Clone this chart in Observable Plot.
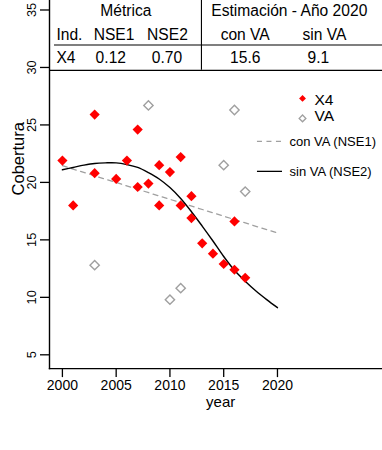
<!DOCTYPE html>
<html><head><meta charset="utf-8">
<script src="https://cdn.jsdelivr.net/npm/d3@7"></script>
<script src="https://cdn.jsdelivr.net/npm/@observablehq/plot@0.6"></script>
<style>
body{margin:0;background:#fff;}
#chart svg{font-family:"Liberation Sans",Arial,Helvetica,sans-serif;}
</style>
</head><body><div id="chart"></div>
<script>
// ---- data ----
const x4Years = [2000,2001,2003,2003,2005,2006,2007,2007,2008,2009,2009,2010,2011,2011,2012,2012,2013,2014,2015,2016,2016,2017];
const x4Values = [21.9,18.0,25.9,20.8,20.3,21.9,24.6,19.6,19.9,21.5,18.0,20.9,22.2,18.0,18.8,16.9,14.7,13.8,12.9,12.4,16.6,11.7];
const vaYears = [2003,2008,2010,2011,2015,2016,2017];
const vaValues = [12.8,26.7,9.8,10.8,21.5,26.3,19.2];
const conVaYears = [2000,2020];
const conVaValues = [21.45,15.6];
const sinVaYears = [2000,2001,2002,2003,2004,2005,2006,2007,2008,2009,2010,2011,2012,2013,2014,2015,2016,2017,2018,2019,2020];
const sinVaValues = [21.1,21.3,21.5,21.65,21.7,21.7,21.55,21.3,20.85,20.3,19.55,18.6,17.45,16.2,14.9,13.55,12.35,11.4,10.55,9.8,9.1];
const xTicks = [2000,2005,2010,2015,2020];
const yTicks = [5,10,15,20,25,30,35];
const tableHeader = ["Métrica","Estimación - Año 2020"];
const tableColumns = ["Ind.","NSE1","NSE2","con VA","sin VA"];
const tableRow = ["X4","0.12","0.70","15.6","9.1"];
const pointLegend = ["X4","VA"];
const lineLegend = ["con VA (NSE1)","sin VA (NSE2)"];
const xLabel = "year";
const yLabel = "Cobertura";

// ---- layout (data units) ----
const xDomain = [1998.8, 2031.2];
const yDomain = [3.8, 36.2];
const headerX = [2005.9, 2021.1], headerY = 34.45;
const colX = [2000.65, 2004.8, 2009.77, 2017.0, 2024.37], colY = 32.36;
const rowX = [2000.33, 2004.5, 2009.72, 2017.0, 2023.8], rowY = 30.36;
const tableLine1 = {y: 31.95, x1: 1999.26}, tableLine2 = {y: 29.75};
const tableSep = {x: 2012.93};
const legPtX = 2022.33, legPtY = [27.31, 25.57], legTxtY = [27.2, 25.75], legTxtX = 2023.44;
const legLineX = [2018.14, 2020.47], legLineY = [23.57, 20.96], legLineTxtX = 2021.12;

const red = "#ff0000", grey = "#a0a0a0";
const x4 = x4Years.map((x,i)=>({x, y:x4Values[i]}));
const va = vaYears.map((x,i)=>({x, y:vaValues[i]}));
const conVa = conVaYears.map((x,i)=>({x, y:conVaValues[i]}));
const sinVa = sinVaYears.map((x,i)=>({x, y:sinVaValues[i]}));

const chart = Plot.plot({
  width: 382, height: 450,
  marginLeft: 49, marginRight: -15.4, marginTop: -4.3, marginBottom: 81.9,
  style: {fontFamily: '"Liberation Sans",Arial,sans-serif', background: "#fff", color: "#000"},
  x: {domain: xDomain, axis: null},
  y: {domain: yDomain, axis: null},
  marks: [
    // table
    Plot.text(tableHeader, {x: (d,i)=>headerX[i], y: headerY, text: d=>d, fontSize: 15.6, lineAnchor: "bottom"}),
    Plot.text(tableColumns, {x: (d,i)=>colX[i], y: colY, text: d=>d, fontSize: 15.6, lineAnchor: "bottom"}),
    Plot.text(tableRow, {x: (d,i)=>rowX[i], y: rowY, text: d=>d, fontSize: 15.6, lineAnchor: "bottom"}),
    Plot.ruleY([tableLine1.y], {x1: tableLine1.x1, x2: xDomain[1], stroke: "#000", strokeWidth: 1.1}),
    Plot.ruleY([tableLine2.y], {x1: xDomain[0], x2: xDomain[1], stroke: "#000", strokeWidth: 1.1}),
    Plot.ruleX([tableSep.x], {y1: tableLine2.y, y2: yDomain[1], stroke: "#000", strokeWidth: 1.1}),
    // lines
    Plot.line(conVa, {x: "x", y: "y", stroke: grey, strokeWidth: 1.3, strokeDasharray: "5,4.5"}),
    Plot.line(sinVa, {x: "x", y: "y", stroke: "#000", strokeWidth: 1.4, curve: "catmull-rom"}),
    // points
    Plot.dot(va, {x: "x", y: "y", symbol: "diamond2", r: 4.2, stroke: grey, strokeWidth: 1.4, fill: "none"}),
    Plot.dot(x4, {x: "x", y: "y", symbol: "diamond2", r: 4.6, fill: red, stroke: "none"}),
    // legend
    Plot.dot(pointLegend, {x: legPtX, y: (d,i)=>legPtY[i], symbol: "diamond2", r: (d,i)=> i===0 ? 4.6 : 4.2,
      fill: (d,i)=> i===0 ? red : "none", stroke: (d,i)=> i===0 ? "none" : grey, strokeWidth: 1.4}),
    Plot.text(pointLegend, {x: legTxtX, y: (d,i)=>legTxtY[i], text: d=>d, textAnchor: "start", lineAnchor: "middle", fontSize: 15.5}),
    Plot.ruleY([legLineY[0]], {x1: legLineX[0], x2: legLineX[1], stroke: grey, strokeWidth: 1.3, strokeDasharray: "5,4.5"}),
    Plot.ruleY([legLineY[1]], {x1: legLineX[0], x2: legLineX[1], stroke: "#000", strokeWidth: 1.3}),
    Plot.text(lineLegend, {x: legLineTxtX, y: (d,i)=>legLineY[i], text: d=>d, textAnchor: "start", lineAnchor: "middle", fontSize: 13}),
    // axes
    Plot.frame({anchor: "left", stroke: "#000", strokeWidth: 1.4}),
    Plot.frame({anchor: "bottom", stroke: "#000", strokeWidth: 1.4}),
    Plot.axisX({ticks: xTicks, tickSize: 9, tickPadding: 2, fontSize: 14, label: null, tickFormat: d=>String(d), strokeWidth: 1.3}),
    Plot.axisY({ticks: yTicks, tickSize: 9, tickFormat: ()=>"", label: null, strokeWidth: 1.3}),
    Plot.text(yTicks, {y: d=>d, text: d=>String(d), frameAnchor: "left", dx: -17.5, rotate: -90, textAnchor: "middle", lineAnchor: "middle", fontSize: 12.8}),
    Plot.text([xLabel], {frameAnchor: "bottom", dx: -3, dy: 38, lineAnchor: "bottom", fontSize: 15, text: d=>d}),
    Plot.text([yLabel], {frameAnchor: "left", dx: -31, dy: 13, rotate: -90, lineAnchor: "middle", fontSize: 16.5, text: d=>d})
  ]
});
document.getElementById("chart").appendChild(chart);
</script>
</body></html>
